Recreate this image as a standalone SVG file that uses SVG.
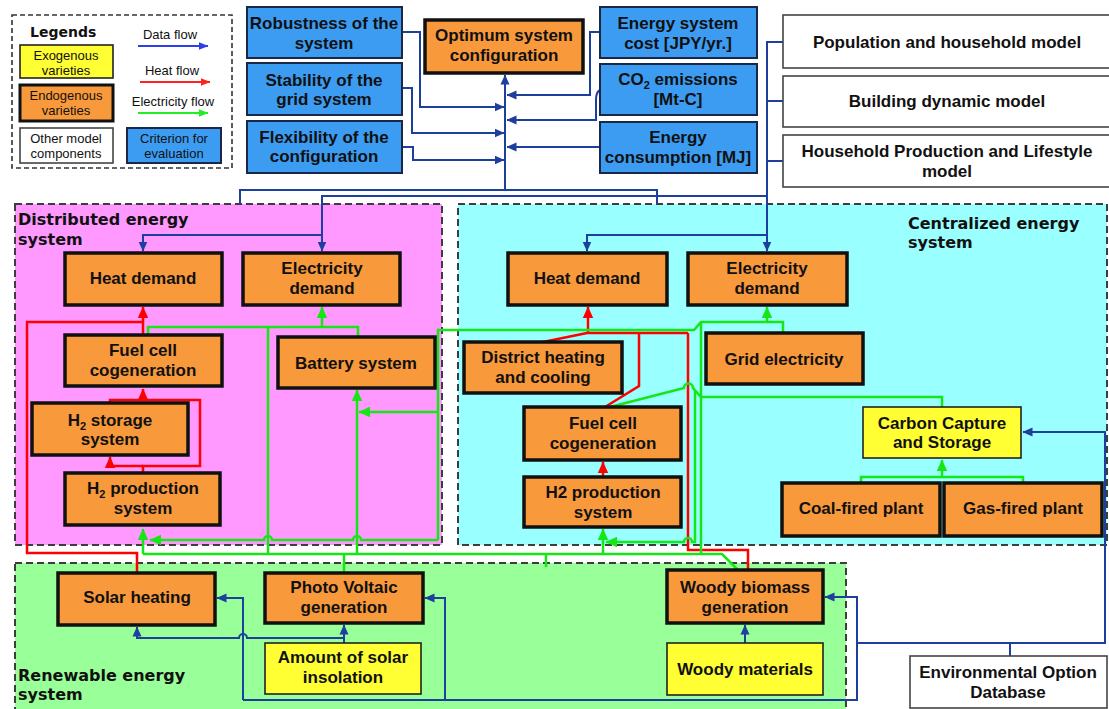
<svg xmlns="http://www.w3.org/2000/svg" width="1109" height="709" viewBox="0 0 1109 709">
<defs>
<style>
.o{fill:#f8993b;stroke:#111;stroke-width:3.5}
.b{fill:#3c9cf2;stroke:#1a2746;stroke-width:2}
.y{fill:#ffff33;stroke:#222;stroke-width:1.6}
.w{fill:#fff;stroke:#444;stroke-width:1.6}
.t{font-family:"Liberation Sans",Arial,sans-serif;font-weight:bold;font-size:17px;text-anchor:middle;fill:#111}
.h{font-family:"DejaVu Sans",sans-serif;font-weight:bold;font-size:16px;fill:#111}
.l{font-family:"Liberation Sans",Arial,sans-serif;font-size:13px;text-anchor:middle;fill:#111}
.area{stroke:#3d3d3d;stroke-width:2;stroke-dasharray:7 4}
.bl{fill:none;stroke:#1d3f9e;stroke-width:2}
.rd{fill:none;stroke:#f00;stroke-width:2.5}
.gr{fill:none;stroke:#16e616;stroke-width:2.5}
.sub{font-size:11px}
</style>
<marker id="mb" viewBox="0 0 10 10" refX="9.5" refY="5" markerWidth="10" markerHeight="10" markerUnits="userSpaceOnUse" orient="auto"><path d="M0,0.5 L10,5 L0,9.5z" fill="#1d3f9e"/></marker>
<marker id="mr" viewBox="0 0 10 10" refX="9.5" refY="5" markerWidth="12" markerHeight="12" markerUnits="userSpaceOnUse" orient="auto"><path d="M0,0.5 L10,5 L0,9.5z" fill="#f00"/></marker>
<marker id="mg" viewBox="0 0 10 10" refX="9.5" refY="5" markerWidth="12" markerHeight="12" markerUnits="userSpaceOnUse" orient="auto"><path d="M0,0.5 L10,5 L0,9.5z" fill="#16e616"/></marker>
<marker id="lb" viewBox="0 0 10 10" refX="9.5" refY="5" markerWidth="10" markerHeight="10" markerUnits="userSpaceOnUse" orient="auto"><path d="M0,1 L10,5 L0,9z" fill="#2f3fe8"/></marker>
<marker id="lr" viewBox="0 0 10 10" refX="9.5" refY="5" markerWidth="10" markerHeight="10" markerUnits="userSpaceOnUse" orient="auto"><path d="M0,1 L10,5 L0,9z" fill="#f22"/></marker>
<marker id="lg" viewBox="0 0 10 10" refX="9.5" refY="5" markerWidth="10" markerHeight="10" markerUnits="userSpaceOnUse" orient="auto"><path d="M0,1 L10,5 L0,9z" fill="#2e2"/></marker>
</defs>
<rect width="1109" height="709" fill="#fff"/>

<!-- system areas -->
<g id="areas">
<rect class="area" x="15" y="204" width="427" height="341" fill="#ff99ff"/>
<rect class="area" x="458" y="204" width="649" height="341" fill="#99ffff"/>
<rect class="area" x="15" y="563" width="831" height="152" fill="#99ff99"/>
<text class="h" x="18" y="225">Distributed energy</text>
<text class="h" x="18" y="245">system</text>
<text class="h" x="908" y="229">Centralized energy</text>
<text class="h" x="908" y="248">system</text>
<text class="h" x="18" y="681">Renewable energy</text>
<text class="h" x="18" y="700">system</text>
</g>

<!-- legend -->
<g id="legend">
<rect x="12" y="15" width="220" height="153" fill="#fff" stroke="#333" stroke-width="1.6" stroke-dasharray="5 3"/>
<text class="h" x="30" y="37" style="font-size:14px">Legends</text>
<rect class="y" x="20" y="45" width="93" height="33"/>
<text class="l" x="66" y="60">Exogenous</text><text class="l" x="66" y="75">varieties</text>
<rect class="o" x="20" y="85" width="93" height="36" style="stroke-width:3"/>
<text class="l" x="66" y="100" fill="#4a3010">Endogenous</text><text class="l" x="66" y="115">varieties</text>
<rect class="w" x="20" y="128" width="93" height="35"/>
<text class="l" x="66" y="143">Other model</text><text class="l" x="66" y="158">components</text>
<rect class="b" x="127" y="128" width="94" height="35"/>
<text class="l" x="174" y="143">Criterion for</text><text class="l" x="174" y="158">evaluation</text>
<text class="l" x="170" y="39">Data flow</text>
<path d="M138,46 H208" stroke="#2f3fe8" stroke-width="2" marker-end="url(#lb)"/>
<text class="l" x="172" y="75">Heat flow</text>
<path d="M140,82 H210" stroke="#f22" stroke-width="2" marker-end="url(#lr)"/>
<text class="l" x="173" y="106">Electricity flow</text>
<path d="M138,113 H208" stroke="#2e2" stroke-width="2" marker-end="url(#lg)"/>
</g>

<!-- connectors -->
<g id="connectors">
<!-- data flows -->
<path class="bl" d="M505,190 V75" marker-end="url(#mb)"/>
<path class="bl" d="M402,32 H420 V107 H504" marker-end="url(#mb)"/>
<path class="bl" d="M402,88 H412 V133 H504" marker-end="url(#mb)"/>
<path class="bl" d="M402,147 H413 V160 H504" marker-end="url(#mb)"/>
<path class="bl" d="M600,32 H590 V95 H507" marker-end="url(#mb)"/>
<path class="bl" d="M600,90 Q596,92 596,100 V120 H507" marker-end="url(#mb)"/>
<path class="bl" d="M600,147 H507" marker-end="url(#mb)"/>
<path class="bl" d="M240,204 V190 H657 V204"/>
<path class="bl" d="M783,42 H767 V251" marker-end="url(#mb)"/>
<path class="bl" d="M767,101 H783 M767,161 H783"/>
<path class="bl" d="M767,196 H322 V251" marker-end="url(#mb)"/>
<path class="bl" d="M322,235 H143 V251" marker-end="url(#mb)"/>
<path class="bl" d="M767,235 H587 V251" marker-end="url(#mb)"/>
<path class="bl" d="M243,700 V598 H217" marker-end="url(#mb)"/>
<path class="bl" d="M243,700 H857 V597 H825" marker-end="url(#mb)"/>
<path class="bl" d="M445,700 V598 H425" marker-end="url(#mb)"/>
<path class="bl" d="M857,643 H1105 V432 H1023" marker-end="url(#mb)"/>
<path class="bl" d="M1010,643 V656"/>
<path class="bl" d="M344,643 V625" marker-end="url(#mb)"/>
<path class="bl" d="M344,638 H247 a4,4 0 0 0 -8,0 H137 V627" marker-end="url(#mb)"/>
<path class="bl" d="M745,643 V625" marker-end="url(#mb)"/>

<!-- heat flows -->
<path class="rd" d="M143,335 V307" marker-end="url(#mr)"/>
<path class="rd" d="M137,573 V553 H27 V322 H143"/>
<path class="rd" d="M110,403 V400 H143 V389" marker-end="url(#mr)"/>
<path class="rd" d="M143,473 V466 H200 V400 H143"/>
<path class="rd" d="M143,466 H110 V457" marker-end="url(#mr)"/>
<path class="rd" d="M543,342 L587,333 H688"/>
<path class="rd" d="M588,333 V307" marker-end="url(#mr)"/>
<path class="rd" d="M639,333 V386 L605,407"/>
<path class="rd" d="M688,333 V550 H748 V570"/>
<path class="rd" d="M603,477 V462" marker-end="url(#mr)"/>

<!-- electricity flows -->
<path class="gr" d="M148,335 V327 H358 V337"/>
<path class="gr" d="M322,327 V307" marker-end="url(#mg)"/>
<path class="gr" d="M268,327 V554"/>
<path class="gr" d="M357,554 V390" marker-end="url(#mg)"/>
<path class="gr" d="M438,412 H359" marker-end="url(#mg)"/>
<path class="gr" d="M438,540 V330 H694 L701,322 H783 V333"/>
<path class="gr" d="M438,540 H361 a4,4 0 0 0 -8,0 H272 a4,4 0 0 0 -8,0 H150" marker-end="url(#mg)"/>
<path class="gr" d="M143,554 V529" marker-end="url(#mg)"/>
<path class="gr" d="M143,554 H722 L738,570"/>
<path class="gr" d="M344,554 V573"/>
<path class="gr" d="M546,554 V567"/>
<path class="gr" d="M603,554 V529" marker-end="url(#mg)"/>
<path class="gr" d="M767,322 V307" marker-end="url(#mg)"/>
<path class="gr" d="M701,322 V554"/>
<path class="gr" d="M610,407 L684,388 a4.5,4.5 0 0 1 9,0 L701,397 H942 V407"/>
<path class="gr" d="M695,390 V542 H692 a4,4 0 0 0 -8,0 H606" marker-end="url(#mg)"/>
<path class="gr" d="M861,483 V477 H1023 V483"/>
<path class="gr" d="M942,477 V460" marker-end="url(#mg)"/>
</g>

<!-- evaluation criteria and result -->
<g id="robustness"><rect class="b" x="247" y="7" width="155" height="51"/>
<text class="t" x="324" y="29">Robustness of the</text><text class="t" x="324" y="49">system</text></g>
<g id="stability"><rect class="b" x="247" y="63" width="155" height="52"/>
<text class="t" x="324" y="86">Stability of the</text><text class="t" x="324" y="105">grid system</text></g>
<g id="flexibility"><rect class="b" x="247" y="121" width="155" height="52"/>
<text class="t" x="324" y="143">Flexibility of the</text><text class="t" x="324" y="162">configuration</text></g>
<g id="optimum"><rect class="o" x="425" y="20" width="158" height="53"/>
<text class="t" x="504" y="41">Optimum system</text><text class="t" x="504" y="61">configuration</text></g>
<g id="cost"><rect class="b" x="600" y="7" width="157" height="51"/>
<text class="t" x="678" y="29">Energy system</text><text class="t" x="678" y="49">cost [JPY/yr.]</text></g>
<g id="co2"><rect class="b" x="600" y="64" width="157" height="51"/>
<text class="t" x="678" y="85">CO<tspan class="sub" dy="4">2</tspan><tspan dy="-4"> emissions</tspan></text><text class="t" x="678" y="105">[Mt-C]</text></g>
<g id="consumption"><rect class="b" x="600" y="122" width="157" height="51"/>
<text class="t" x="678" y="143">Energy</text><text class="t" x="678" y="163">consumption [MJ]</text></g>

<!-- other models -->
<g id="population"><rect class="w" x="783" y="15" width="340" height="53"/>
<text class="t" x="947" y="48">Population and household model</text></g>
<g id="building"><rect class="w" x="783" y="76" width="340" height="51"/>
<text class="t" x="947" y="107">Building dynamic model</text></g>
<g id="lifestyle"><rect class="w" x="783" y="135" width="340" height="52"/>
<text class="t" x="947" y="157">Household Production and Lifestyle</text><text class="t" x="947" y="177">model</text></g>
<g id="eod"><rect class="w" x="910" y="656" width="197" height="52"/>
<text class="t" x="1008" y="678">Environmental Option</text><text class="t" x="1008" y="698">Database</text></g>

<!-- distributed energy system -->
<g id="d-heat"><rect class="o" x="65" y="253" width="157" height="52"/><text class="t" x="143" y="284">Heat demand</text></g>
<g id="d-elec"><rect class="o" x="243" y="253" width="157" height="52"/>
<text class="t" x="322" y="274">Electricity</text><text class="t" x="322" y="294">demand</text></g>
<g id="d-fuelcell"><rect class="o" x="65" y="335" width="157" height="51"/>
<text class="t" x="143" y="356">Fuel cell</text><text class="t" x="143" y="376">cogeneration</text></g>
<g id="d-battery"><rect class="o" x="278" y="337" width="157" height="51"/><text class="t" x="356" y="369">Battery system</text></g>
<g id="d-h2storage"><rect class="o" x="32" y="403" width="156" height="52"/>
<text class="t" x="110" y="426">H<tspan class="sub" dy="4">2</tspan><tspan dy="-4"> storage</tspan></text><text class="t" x="110" y="445">system</text></g>
<g id="d-h2prod"><rect class="o" x="65" y="473" width="155" height="52"/>
<text class="t" x="143" y="494">H<tspan class="sub" dy="4">2</tspan><tspan dy="-4"> production</tspan></text><text class="t" x="143" y="514">system</text></g>

<!-- centralized energy system -->
<g id="c-heat"><rect class="o" x="508" y="253" width="159" height="52"/><text class="t" x="587" y="284">Heat demand</text></g>
<g id="c-elec"><rect class="o" x="688" y="253" width="159" height="52"/>
<text class="t" x="767" y="274">Electricity</text><text class="t" x="767" y="294">demand</text></g>
<g id="c-district"><rect class="o" x="464" y="342" width="158" height="51"/>
<text class="t" x="543" y="363">District heating</text><text class="t" x="543" y="383">and cooling</text></g>
<g id="c-grid"><rect class="o" x="706" y="333" width="157" height="51"/><text class="t" x="784" y="365">Grid electricity</text></g>
<g id="c-fuelcell"><rect class="o" x="524" y="407" width="157" height="53"/>
<text class="t" x="603" y="429">Fuel cell</text><text class="t" x="603" y="449">cogeneration</text></g>
<g id="c-h2prod"><rect class="o" x="524" y="477" width="157" height="50"/>
<text class="t" x="603" y="498">H2 production</text><text class="t" x="603" y="518">system</text></g>
<g id="c-ccs"><rect class="y" x="863" y="407" width="158" height="51"/>
<text class="t" x="942" y="429">Carbon Capture</text><text class="t" x="942" y="448">and Storage</text></g>
<g id="c-coal"><rect class="o" x="782" y="483" width="158" height="53"/><text class="t" x="861" y="514">Coal-fired plant</text></g>
<g id="c-gas"><rect class="o" x="944" y="483" width="158" height="53"/><text class="t" x="1023" y="514">Gas-fired plant</text></g>

<!-- renewable energy system -->
<g id="r-solarheat"><rect class="o" x="58" y="573" width="157" height="52"/><text class="t" x="137" y="603">Solar heating</text></g>
<g id="r-pv"><rect class="o" x="265" y="573" width="158" height="50"/>
<text class="t" x="344" y="593">Photo Voltaic</text><text class="t" x="344" y="613">generation</text></g>
<g id="r-insolation"><rect class="y" x="265" y="643" width="156" height="51"/>
<text class="t" x="343" y="663">Amount of solar</text><text class="t" x="343" y="683">insolation</text></g>
<g id="r-woody"><rect class="o" x="667" y="570" width="156" height="53"/>
<text class="t" x="745" y="593">Woody biomass</text><text class="t" x="745" y="613">generation</text></g>
<g id="r-materials"><rect class="y" x="667" y="643" width="156" height="52"/><text class="t" x="745" y="675">Woody materials</text></g>
</svg>
